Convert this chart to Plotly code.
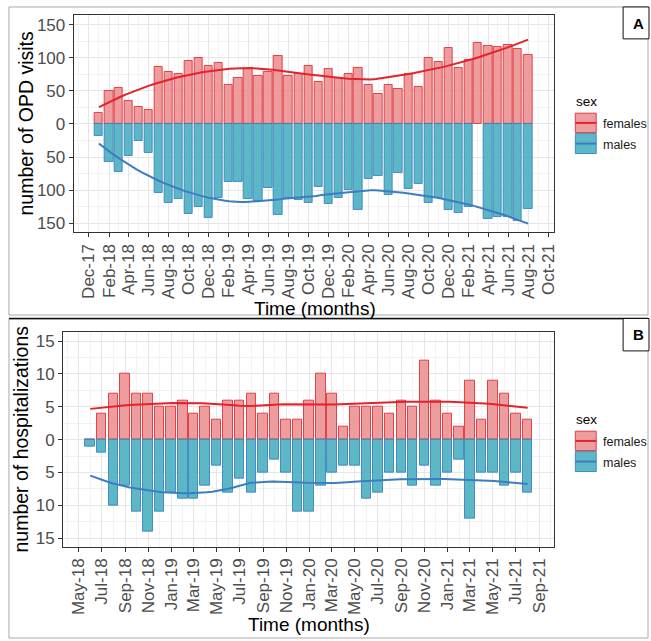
import numpy as np
import pandas as pd
import plotly.graph_objects as go

W, H = 651, 641

# ---------------- data ----------------
months_A = pd.date_range("2018-01-01", "2021-08-01", freq="MS")
opd_females = [17, 50, 54, 35, 25, 21, 86, 78, 75, 95,
               99, 88, 92, 59, 70, 83, 72, 78, 103, 72,
               76, 88, 64, 83, 69, 75, 84, 59, 45, 59,
               53, 76, 56, 99, 93, 114, 85, 96, 123, 118,
               116, 120, 113, 104]
opd_males = [18, 58, 72, 49, 26, 44, 105, 119, 113, 136,
             126, 142, 112, 88, 87, 114, 117, 97, 138, 112,
             115, 120, 95, 121, 112, 100, 130, 83, 79, 108,
             74, 98, 90, 119, 112, 130, 135, 125, None, 143,
             141, 140, 147, 128]

months_B = pd.date_range("2018-06-01", "2021-08-01", freq="MS")
hosp_females = [0, 4, 7, 10, 7, 7, 5, 5, 6, 4,
                5, 3, 6, 6, 7, 4, 7, 3, 3, 6,
                10, 7, 2, 5, 5, 5, 4, 6, 5, 12,
                6, 4, 2, 9, 3, 9, 7, 4, 3]
hosp_males = [1, 2, 10, 7, 11, 14, 11, 8, 9, 9,
              7, 4, 8, 6, 8, 5, 3, 5, 11, 11,
              7, 5, 4, 4, 9, 8, 5, 5, 7, 4,
              7, 5, 3, 12, 5, 5, 7, 5, 8]

yticks_A = [-150, -100, -50, 0, 50, 100, 150]
yticks_B = [-15, -10, -5, 0, 5, 10, 15]
sex_labels = ["females", "males"]

# ---------------- styles ----------------
F_FILL = "rgba(234,140,140,0.85)"
F_LINE = "rgba(226,40,48,0.85)"
M_FILL = "rgba(78,178,194,0.92)"
M_LINE = "rgba(55,126,192,0.85)"
F_SMOOTH = "#E3222B"
M_SMOOTH = "#3A7DC0"
FONT = "Liberation Sans, Arial, sans-serif"
BAR_W = 25.2 * 86400000  # ms


def loess(dates, vals, span=0.75, n_out=80):
    x = np.array([d.value / 864e11 for d, v in zip(dates, vals) if v is not None])
    y = np.array([v for v in vals if v is not None], dtype=float)
    n = len(x)
    q = int(np.floor(n * span))
    xo = np.linspace(x.min(), x.max(), n_out)
    out = []
    for x0 in xo:
        d = np.abs(x - x0)
        h = np.sort(d)[q - 1]
        w = np.clip(1 - (d / h) ** 3, 0, None) ** 3
        X = np.vstack([np.ones(n), x - x0, (x - x0) ** 2]).T
        sw = np.sqrt(w)
        beta = np.linalg.lstsq(X * sw[:, None], y * sw, rcond=None)[0]
        out.append(beta[0])
    xd = pd.to_datetime(xo * 864e11)
    return xd, np.array(out)


fig = go.Figure()


def add_panel(months, fem, mal, xa, ya):
    neg = [(-v if v is not None else None) for v in mal]
    fig.add_trace(go.Bar(x=months, y=fem, width=BAR_W, name=sex_labels[0],
                         marker=dict(color=F_FILL, line=dict(color=F_LINE, width=1)),
                         xaxis=xa, yaxis=ya, showlegend=False))
    fig.add_trace(go.Bar(x=months, y=neg, width=BAR_W, name=sex_labels[1],
                         marker=dict(color=M_FILL, line=dict(color=M_LINE, width=1)),
                         xaxis=xa, yaxis=ya, showlegend=False))
    fx, fy = loess(months, fem)
    mx, my = loess(months, neg)
    fig.add_trace(go.Scatter(x=fx, y=fy, mode="lines", line=dict(color=F_SMOOTH, width=2),
                             xaxis=xa, yaxis=ya, showlegend=False, hoverinfo="skip"))
    fig.add_trace(go.Scatter(x=mx, y=my, mode="lines", line=dict(color=M_SMOOTH, width=2),
                             xaxis=xa, yaxis=ya, showlegend=False, hoverinfo="skip"))


add_panel(months_A, opd_females, opd_males, "x", "y")
add_panel(months_B, hosp_females, hosp_males, "x2", "y2")


def xaxis_cfg(dom, rng, tick0):
    return dict(domain=dom, type="date", range=rng, tick0=tick0, dtick="M2",
                tickformat="%b-%y", tickangle=-90, showgrid=True, gridcolor="#E6E6E6",
                gridwidth=1, minor=dict(dtick="M1", showgrid=True, gridcolor="#F3F3F3"),
                ticks="outside", ticklen=4, tickcolor="#333333",
                showline=True, linecolor="#333333", linewidth=1, mirror=True,
                tickfont=dict(family=FONT, size=17, color="#4D4D4D"), zeroline=False)


def yaxis_cfg(dom, rng, vals, minor):
    return dict(domain=dom, range=rng, tickvals=vals, ticktext=[str(abs(v)) for v in vals],
                showgrid=True, gridcolor="#E6E6E6", minor=dict(dtick=minor, showgrid=True,
                                                               gridcolor="#F3F3F3"),
                ticks="outside", ticklen=4, tickcolor="#333333",
                showline=True, linecolor="#333333", linewidth=1, mirror=True,
                tickfont=dict(family=FONT, size=17, color="#4D4D4D"), zeroline=False)


fig.update_layout(
    width=W, height=H, margin=dict(l=0, r=0, t=0, b=0),
    paper_bgcolor="white", plot_bgcolor="white",
    barmode="overlay", bargap=0,
    xaxis=dict(**xaxis_cfg([74 / W, 557 / W], ["2017-10-16", "2021-10-20"], "2017-12-01"), anchor="y"),
    yaxis=dict(**yaxis_cfg([1 - 233 / H, 1 - 15 / H], [-163.7, 164.6], yticks_A, 25), anchor="x"),
    xaxis2=dict(**xaxis_cfg([63.3 / W, 556.7 / W], ["2018-03-21", "2021-10-10"], "2018-05-01"), anchor="y2"),
    yaxis2=dict(**yaxis_cfg([1 - 548.3 / H, 1 - 332.7 / H], [-16.28, 16.43], yticks_B, 2.5), anchor="x2"),
)


def px(x):
    return x / W


def py(y):
    return 1 - y / H


shapes = []
annos = []


def rect(x0, y0, x1, y1, line, width=1, fill=None):
    shapes.append(dict(type="rect", xref="paper", yref="paper", x0=px(x0), x1=px(x1),
                       y0=py(y1), y1=py(y0), line=dict(color=line, width=width),
                       fillcolor=fill if fill else "rgba(0,0,0,0)", layer="above"))


def hline(x0, x1, y, color, width=1):
    shapes.append(dict(type="line", xref="paper", yref="paper", x0=px(x0), x1=px(x1),
                       y0=py(y), y1=py(y), line=dict(color=color, width=width), layer="above"))


def text(x, y, s, size, xanchor="center", angle=0, color="#000", bold=False):
    annos.append(dict(xref="paper", yref="paper", x=px(x), y=py(y), text=("<b>%s</b>" % s) if bold else s,
                      showarrow=False, xanchor=xanchor, yanchor="middle", textangle=angle,
                      font=dict(family=FONT, size=size, color=color)))


# outer frames
rect(9, 7, 651, 316, "#AAAAAA", 1)
rect(9, 320, 651, 640, "#AAAAAA", 1)
hline(9, 651, 319.5, "#111111", 1.5)
rect(626, 7, 652, 39, "#111111", 1, "white")
rect(626, 319.5, 652, 352, "#111111", 1, "white")
text(641, 24, "A", 15, bold=True)
text(641, 336, "B", 15, bold=True)

# axis titles
text(316, 309, "Time (months)", 19)
text(310, 626, "Time (months)", 19)
text(26, 124, "number of OPD visits", 19.5, angle=-90)
text(21, 440, "number of hospitalizations", 19.5, angle=-90)


# legends
def legend(dy):
    text(577, 102 + dy, "sex", 13.5, xanchor="left")
    rect(578, 113.5 + dy, 599, 133 + dy, F_LINE, 1, F_FILL)
    hline(578, 599, 123.3 + dy, F_SMOOTH, 2)
    rect(578, 134 + dy, 599, 154 + dy, M_LINE, 1, M_FILL)
    hline(578, 599, 144 + dy, M_SMOOTH, 2)
    text(604, 124 + dy, sex_labels[0], 12.5, xanchor="left", color="#1A1A1A")
    text(604, 145 + dy, sex_labels[1], 12.5, xanchor="left", color="#1A1A1A")


legend(0)
legend(319)

fig.update_layout(shapes=shapes, annotations=annos)
fig.write_html("out.html", config={"displayModeBar": False})

with open("out.html", "r", encoding="utf-8") as f:
    html = f.read()
html = html.replace("<head>", "<head><style>html,body{margin:0;padding:0;overflow:hidden;}</style>", 1)
with open("out.html", "w", encoding="utf-8") as f:
    f.write(html)
